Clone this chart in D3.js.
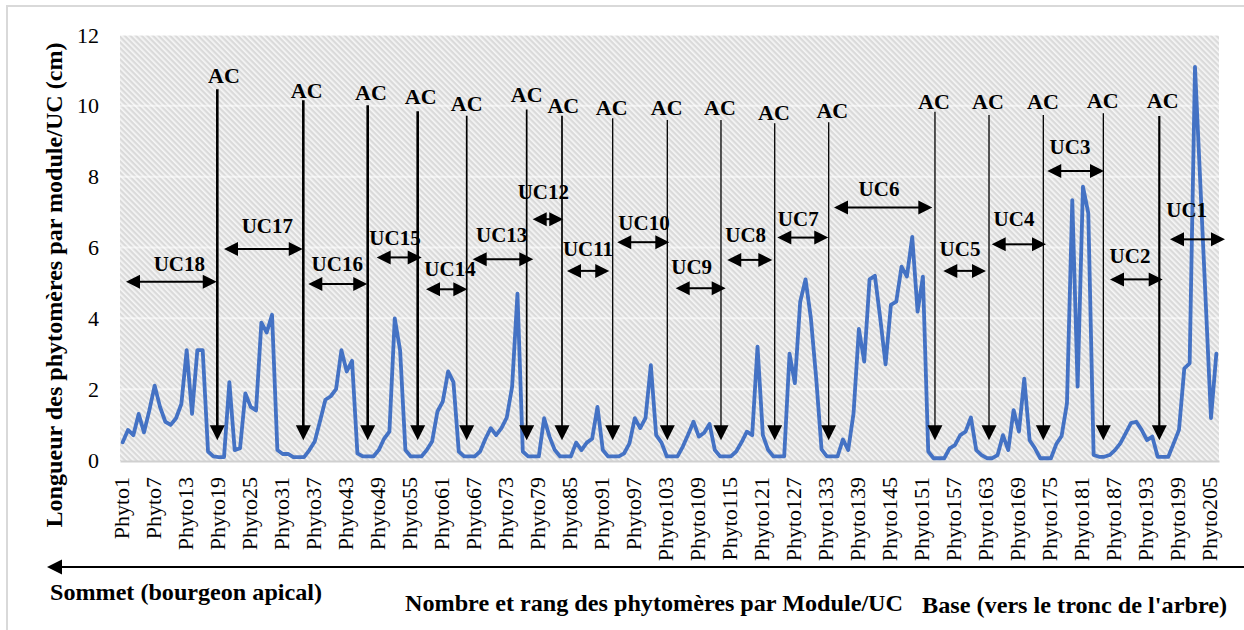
<!DOCTYPE html>
<html>
<head>
<meta charset="utf-8">
<script src="https://cdn.jsdelivr.net/npm/d3@7"></script>
<style>
  html, body { margin: 0; padding: 0; background: #fff; }
  svg { display: block; }
</style>
</head>
<body>
<svg id="chart" width="1244" height="630"></svg>
<script>
// ---- data -------------------------------------------------------------
const phytoCount = 206;
const categories = d3.range(1, phytoCount + 1).map(i => "Phyto" + i);

const tickLabels = [
  "Phyto1", "Phyto7", "Phyto13", "Phyto19", "Phyto25", "Phyto31", "Phyto37",
  "Phyto43", "Phyto49", "Phyto55", "Phyto61", "Phyto67", "Phyto73", "Phyto79",
  "Phyto85", "Phyto91", "Phyto97", "Phyto103", "Phyto109", "Phyto115", "Phyto121",
  "Phyto127", "Phyto133", "Phyto139", "Phyto145", "Phyto151", "Phyto157", "Phyto163",
  "Phyto169", "Phyto175", "Phyto181", "Phyto187", "Phyto193", "Phyto199", "Phyto205"
];

const yTicks = [0, 2, 4, 6, 8, 10, 12];

// length of each phytomer (cm), from the apex (Phyto1) to the base
const lengths = [
  0.5, 0.85, 0.7, 1.3, 0.78, 1.4, 2.1, 1.5, 1.08, 0.99,
  1.18, 1.58, 3.1, 1.3, 3.1, 3.1, 0.24, 0.1, 0.08, 0.08,
  2.2, 0.28, 0.33, 1.88, 1.5, 1.4, 3.88, 3.6, 4.1, 0.28,
  0.17, 0.17, 0.08, 0.08, 0.08, 0.28, 0.52, 1.1, 1.7, 1.8,
  2.0, 3.1, 2.5, 2.8, 0.19, 0.1, 0.1, 0.1, 0.28, 0.6,
  0.8, 4.0, 3.1, 0.28, 0.1, 0.1, 0.1, 0.28, 0.52, 1.37,
  1.65, 2.5, 2.2, 0.24, 0.1, 0.1, 0.1, 0.24, 0.6, 0.9,
  0.7, 0.9, 1.2, 2.07, 4.7, 0.24, 0.1, 0.1, 0.1, 1.18,
  0.66, 0.28, 0.1, 0.1, 0.1, 0.49, 0.28, 0.49, 0.6, 1.5,
  0.28, 0.1, 0.1, 0.1, 0.19, 0.47, 1.18, 0.9, 1.18, 2.68,
  0.7, 0.49, 0.1, 0.1, 0.1, 0.38, 0.72, 1.08, 0.66, 0.77,
  1.02, 0.28, 0.1, 0.1, 0.1, 0.24, 0.5, 0.8, 0.7, 3.2,
  0.7, 0.28, 0.1, 0.1, 0.1, 3.0, 2.17, 4.47, 5.1, 4.0,
  2.3, 0.3, 0.1, 0.1, 0.1, 0.58, 0.28, 1.32, 3.7, 2.78,
  5.1, 5.2, 4.0, 2.7, 4.38, 4.47, 5.46, 5.18, 6.3, 4.19,
  5.18, 0.24, 0.05, 0.05, 0.05, 0.33, 0.42, 0.7, 0.8, 1.2,
  0.28, 0.14, 0.05, 0.05, 0.14, 0.7, 0.28, 1.41, 0.8, 2.3,
  0.56, 0.33, 0.05, 0.05, 0.05, 0.45, 0.68, 1.6, 7.34, 2.07,
  7.72, 6.97, 0.14, 0.09, 0.09, 0.14, 0.28, 0.47, 0.75, 1.04,
  1.08, 0.85, 0.56, 0.66, 0.09, 0.09, 0.09, 0.47, 0.85, 2.59,
  2.73, 11.1, 7.8, 4.5, 1.18, 3.0
];

// AC (arrêt de croissance) markers: [rank, top value, label rank, label value]
const acMarks = [
  [18.74, 10.47, 19.99, 10.87], [34.86, 10.16, 35.50, 10.43],
  [46.93, 10.02, 47.55, 10.37], [56.30, 9.85, 56.86, 10.28],
  [65.49, 9.72, 65.49, 10.07], [76.73, 9.90, 76.73, 10.33],
  [83.35, 9.72, 83.59, 10.02], [92.85, 9.65, 92.67, 9.96],
  [103.09, 9.60, 102.97, 9.96], [113.15, 9.60, 112.96, 9.96],
  [123.22, 9.51, 123.09, 9.82], [133.34, 9.54, 134.02, 9.88],
  [153.26, 9.83, 153.08, 10.12], [163.39, 9.74, 163.20, 10.12],
  [173.57, 9.74, 173.51, 10.12], [184.82, 9.79, 184.70, 10.16],
  [195.31, 9.71, 195.95, 10.16]
];
const acTipValue = 0.56;
const acLabel = "AC";

// growth units: name, [from rank, to rank, value], [label rank, label value]
const ucNames = ["UC18", "UC17", "UC16", "UC15", "UC14", "UC13", "UC12", "UC11", "UC10",
                 "UC9", "UC8", "UC7", "UC6", "UC5", "UC4", "UC3", "UC2", "UC1"];
const ucSpans = [
  [1.62, 18.63, 5.03], [19.99, 34.75, 5.96], [35.80, 46.85, 4.97],
  [48.62, 57.05, 5.72], [57.86, 65.60, 4.82], [66.61, 77.97, 5.67],
  [77.86, 83.59, 6.80], [84.29, 92.21, 5.34], [93.71, 103.46, 6.15],
  [104.66, 114.03, 4.85], [114.33, 122.77, 5.65], [123.71, 133.26, 6.28],
  [134.33, 152.76, 7.13], [154.82, 162.82, 5.34], [163.89, 174.07, 6.09],
  [174.31, 184.94, 8.16], [186.07, 195.95, 5.10], [197.31, 207.62, 6.23]
];
const ucLabelPos = [
  [11.62, 5.55], [28.11, 6.61], [41.23, 5.55], [52.05, 6.29], [62.36, 5.41],
  [72.05, 6.35], [79.85, 7.57], [88.22, 5.98], [98.72, 6.70], [107.66, 5.46],
  [117.78, 6.35], [127.64, 6.82], [142.77, 7.67], [157.95, 5.98], [168.07, 6.82],
  [178.57, 8.86], [189.82, 5.76], [200.44, 7.06]
];

const yTitle = "Longueur des phytomères par module/UC (cm)";
const xTitle = "Nombre et rang des phytomères par Module/UC";
const apexLabel = "Sommet (bourgeon apical)";
const baseLabel = "Base (vers le tronc de l'arbre)";

// ---- layout -----------------------------------------------------------
const FONT = "'Liberation Serif', 'Times New Roman', Tinos, serif";
const svg = d3.select("#chart");
const plot = { left: 120, right: 1219, top: 35, bottom: 460 };

const x = d3.scaleBand().domain(categories).range([plot.left, plot.right]).padding(0);
const xr = d3.scaleLinear().domain([0.5, phytoCount + 0.5]).range([plot.left, plot.right]);
const y = d3.scaleLinear().domain([0, 12]).range([plot.bottom, plot.top]);

// outer frame
svg.append("rect")
  .attr("x", 7).attr("y", 6).attr("width", 1300).attr("height", 700)
  .attr("fill", "none").attr("stroke", "#d9d9d9").attr("stroke-width", 2);

// hatched plot background
const defs = svg.append("defs");
const pat = defs.append("pattern")
  .attr("id", "hatch").attr("patternUnits", "userSpaceOnUse")
  .attr("width", 4).attr("height", 4)
  .attr("patternTransform", "rotate(-45)");
pat.append("rect").attr("width", 4).attr("height", 4).attr("fill", "#dadada");
pat.append("rect").attr("width", 1.7).attr("height", 4).attr("fill", "#f6f6f6");

svg.append("rect")
  .attr("x", plot.left).attr("y", y(12))
  .attr("width", plot.right - plot.left).attr("height", y(0) - y(12) + 1)
  .attr("fill", "url(#hatch)");

// horizontal gridlines
svg.append("g").selectAll("line").data(yTicks.filter(t => t > 0)).join("line")
  .attr("x1", plot.left).attr("x2", plot.right)
  .attr("y1", d => y(d)).attr("y2", d => y(d))
  .attr("stroke", "#ffffff").attr("stroke-opacity", 0.55).attr("stroke-width", 2);

// y axis
const yAxis = svg.append("g")
  .attr("transform", `translate(${plot.left},0)`)
  .call(d3.axisLeft(y).tickValues(yTicks).tickSize(0).tickPadding(21).tickFormat(d3.format("d")));
yAxis.select(".domain").remove();
yAxis.selectAll("text")
  .style("font-family", FONT)
  .style("font-size", "22px").attr("fill", "#000");

// x axis
const xAxis = svg.append("g")
  .attr("transform", `translate(0,${plot.bottom + 1})`)
  .call(d3.axisBottom(x).tickValues(tickLabels).tickSize(0));
xAxis.select(".domain").attr("stroke", "#d0d0d0").attr("stroke-width", 2);
xAxis.selectAll("text")
  .style("font-family", FONT)
  .style("font-size", "22px").attr("fill", "#000")
  .attr("text-anchor", "end")
  .attr("transform", "rotate(-90)")
  .attr("x", -16).attr("y", 6).attr("dy", "0");

// data line
const line = d3.line()
  .x((d, i) => x(categories[i]) + x.bandwidth() / 2)
  .y(d => y(d));
svg.append("path")
  .datum(lengths)
  .attr("d", line)
  .attr("fill", "none")
  .attr("stroke", "#4472C4")
  .attr("stroke-width", 3.8)
  .attr("stroke-linejoin", "round")
  .attr("stroke-linecap", "round");

// AC arrows
const acWidths = acMarks.map((d, i) => (i < 4 ? 2.6 : i < 7 ? 1.7 : i === acMarks.length - 1 ? 2.2 : 1.3));
const acG = svg.append("g");
const headL = 15, headW = 7.5;
acMarks.forEach((d, i) => {
  const cx = xr(d[0]);
  const tip = y(acTipValue);
  acG.append("line")
    .attr("x1", cx).attr("x2", cx)
    .attr("y1", y(d[1])).attr("y2", tip - headL + 1)
    .attr("stroke", "#000").attr("stroke-width", acWidths[i]);
  acG.append("path")
    .attr("d", `M${cx - headW},${tip - headL}L${cx + headW},${tip - headL}L${cx},${tip}Z`)
    .attr("fill", "#000");
  acG.append("text")
    .attr("x", xr(d[2])).attr("y", y(d[3]))
    .attr("dy", "0.35em")
    .attr("text-anchor", "middle")
    .style("font-family", FONT)
    .style("font-size", "22px").style("font-weight", "bold")
    .text(acLabel);
});

// UC double arrows
const ucG = svg.append("g");
const uHeadL = 14, uHeadW = 7;
ucSpans.forEach((d, i) => {
  const x1 = xr(d[0]), x2 = xr(d[1]), yy = y(d[2]);
  ucG.append("line")
    .attr("x1", x1 + uHeadL - 1).attr("x2", x2 - uHeadL + 1)
    .attr("y1", yy).attr("y2", yy)
    .attr("stroke", "#000").attr("stroke-width", 2);
  ucG.append("path")
    .attr("d", `M${x1},${yy}L${x1 + uHeadL},${yy - uHeadW}L${x1 + uHeadL},${yy + uHeadW}Z`)
    .attr("fill", "#000");
  ucG.append("path")
    .attr("d", `M${x2},${yy}L${x2 - uHeadL},${yy - uHeadW}L${x2 - uHeadL},${yy + uHeadW}Z`)
    .attr("fill", "#000");
  ucG.append("text")
    .attr("x", xr(ucLabelPos[i][0])).attr("y", y(ucLabelPos[i][1]))
    .attr("dy", "0.35em")
    .attr("text-anchor", "middle")
    .style("font-family", FONT)
    .style("font-size", "21px").style("font-weight", "bold")
    .text(ucNames[i]);
});

// y title
svg.append("text")
  .attr("transform", "translate(62,285) rotate(-90)")
  .attr("text-anchor", "middle")
  .style("font-family", FONT)
  .style("font-size", "23px").style("font-weight", "bold")
  .attr("textLength", 485).attr("lengthAdjust", "spacingAndGlyphs")
  .text(yTitle);

// apex -> base direction arrow
const arrowY = 567;
svg.append("line")
  .attr("x1", 60).attr("x2", 1244).attr("y1", arrowY).attr("y2", arrowY)
  .attr("stroke", "#000").attr("stroke-width", 2.2);
svg.append("path")
  .attr("d", `M47,${arrowY}L62,${arrowY - 7.5}L62,${arrowY + 7.5}Z`)
  .attr("fill", "#000");

svg.append("text")
  .attr("x", 50).attr("y", 600)
  .style("font-family", FONT)
  .style("font-size", "23px").style("font-weight", "bold")
  .attr("textLength", 272).attr("lengthAdjust", "spacingAndGlyphs")
  .text(apexLabel);

svg.append("text")
  .attr("x", 405).attr("y", 611)
  .style("font-family", FONT)
  .style("font-size", "24px").style("font-weight", "bold")
  .attr("textLength", 498).attr("lengthAdjust", "spacingAndGlyphs")
  .text(xTitle);

svg.append("text")
  .attr("x", 922).attr("y", 613)
  .style("font-family", FONT)
  .style("font-size", "24px").style("font-weight", "bold")
  .attr("textLength", 305).attr("lengthAdjust", "spacingAndGlyphs")
  .text(baseLabel);
</script>
</body>
</html>
